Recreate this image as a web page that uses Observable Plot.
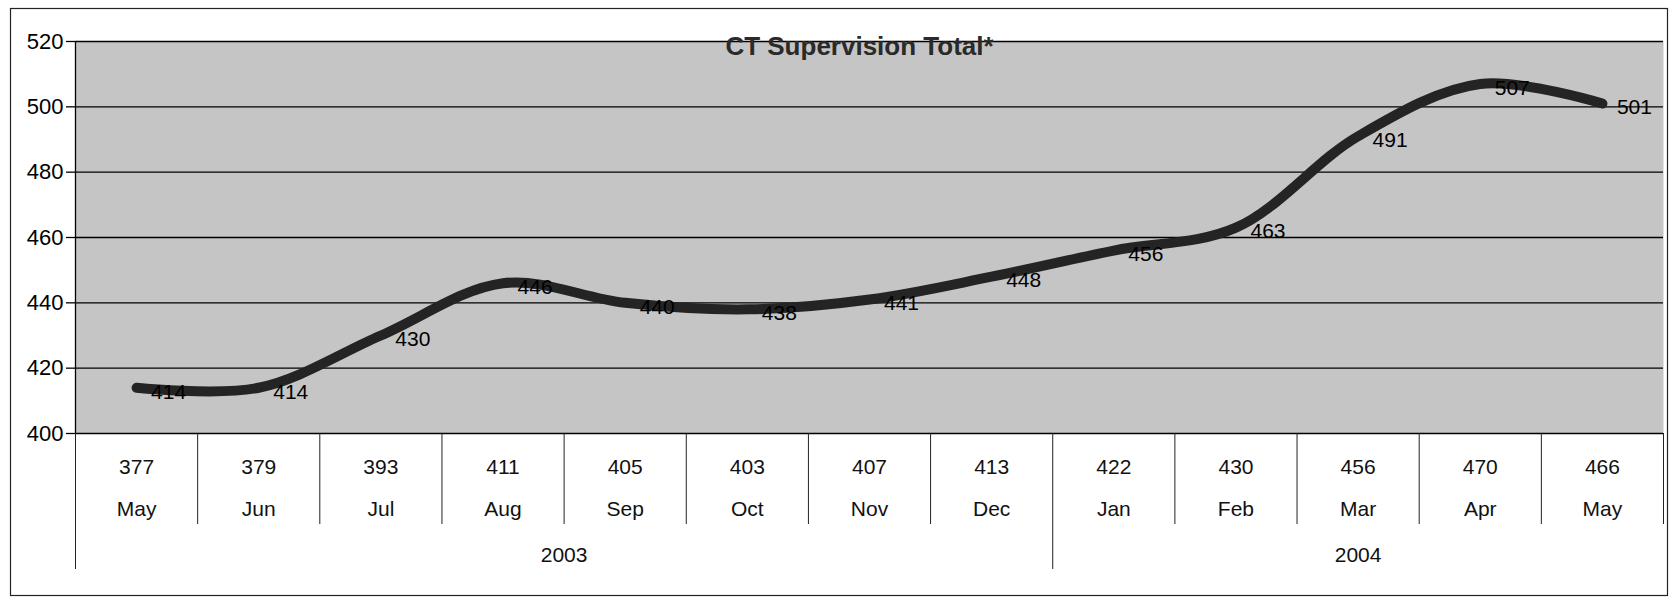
<!DOCTYPE html>
<html>
<head>
<meta charset="utf-8">
<script src="https://cdn.jsdelivr.net/npm/d3@7"></script>
<script src="https://cdn.jsdelivr.net/npm/@observablehq/plot@0.6"></script>
<style>
  html, body { margin: 0; padding: 0; background: #fff; }
  svg { font-family: "Liberation Sans", Arial, sans-serif; }
</style>
</head>
<body>
<div id="chart"></div>
<script>
const months = ["May","Jun","Jul","Aug","Sep","Oct","Nov","Dec","Jan","Feb","Mar","Apr","May"];
const years  = [2003,2003,2003,2003,2003,2003,2003,2003,2004,2004,2004,2004,2004];
const totals = [414,414,430,446,440,438,441,448,456,463,491,507,501];
const counts = [377,379,393,411,405,403,407,413,422,430,456,470,466];
const yTicks = [400,420,440,460,480,500,520];
const title = "CT Supervision Total*";

const W = 1678, H = 600, mt = 41, mb = 167, ml = 75, mr = 15;
const frameH = H - mt - mb;

const data = months.map((m, i) => ({i, month: m, year: years[i], total: totals[i], count: counts[i]}));
const groups = d3.groups(data, d => d.year).map(([year, rows]) => ({year, i: d3.mean(rows, d => d.i)}));
const monthDividers = data.filter(d => d.i > 0 && d.year === data[d.i - 1].year).map(d => d.i - 0.5);
const yearDividers = data.filter(d => d.i > 0 && d.year !== data[d.i - 1].year).map(d => d.i - 0.5);
const leftEdge = [-0.5];
const rightEdge = [data.length - 0.5];

const chart = Plot.plot({
  width: W, height: H,
  marginTop: mt, marginBottom: mb, marginLeft: ml, marginRight: mr,
  x: {type: "linear", domain: [-0.5, data.length - 0.5], axis: null},
  y: {domain: [400, 520], axis: null, label: null},
  marks: [
    Plot.frame({fill: "#c5c5c5"}),
    Plot.frame({insetLeft: -65, insetTop: -33, insetRight: -4, insetBottom: -162, stroke: "#222", strokeWidth: 1.2}),
    Plot.gridY(yTicks, {stroke: "#000", strokeOpacity: 1, strokeWidth: 1.3}),
    Plot.axisY(yTicks, {label: null, tickSize: 9, tickPadding: 3, fontSize: 22, stroke: "#000", strokeWidth: 1.3, fill: "#000"}),
    Plot.ruleX(leftEdge, {x: d => d, stroke: "#000", strokeWidth: 1.3}),
    Plot.ruleX(leftEdge, {x: d => d, insetTop: frameH, insetBottom: -136, stroke: "#222", strokeWidth: 1}),
    Plot.ruleX(yearDividers, {x: d => d, insetTop: frameH, insetBottom: -136, stroke: "#222", strokeWidth: 1}),
    Plot.ruleX(monthDividers, {x: d => d, insetTop: frameH, insetBottom: -91, stroke: "#222", strokeWidth: 1}),
    Plot.ruleX(rightEdge, {x: d => d, insetTop: frameH, insetBottom: -91, stroke: "#222", strokeWidth: 1}),
    Plot.line(data, {x: "i", y: "total", curve: "catmull-rom", stroke: "#242424", strokeWidth: 10, strokeLinecap: "round"}),
    Plot.text(data, {x: "i", y: "total", text: d => String(d.total), dx: 32, dy: 4, fontSize: 21, fill: "#000"}),
    Plot.text(data, {x: "i", frameAnchor: "bottom", dy: 40, text: d => String(d.count), fontSize: 21, fill: "#111"}),
    Plot.text(data, {x: "i", frameAnchor: "bottom", dy: 82, text: "month", fontSize: 21, fill: "#111"}),
    Plot.text(groups, {x: "i", frameAnchor: "bottom", dy: 128, text: d => String(d.year), fontSize: 21, fill: "#111"}),
    Plot.text([title], {x: () => (data.length - 1) / 2, frameAnchor: "top", dx: -10, dy: -5, text: d => d, fontSize: 26, fontWeight: "bold", fill: "#2a2a2a"})
  ]
});
document.getElementById("chart").appendChild(chart);
</script>
</body>
</html>
